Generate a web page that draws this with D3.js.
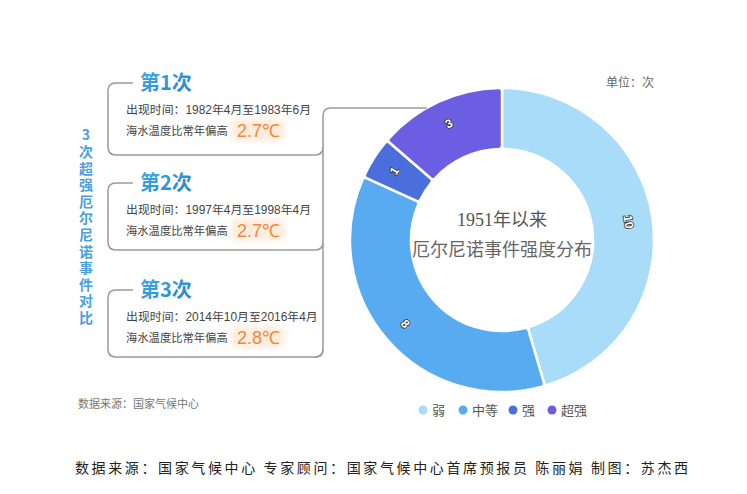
<html lang="zh">
<head>
<meta charset="UTF-8">
<script src="https://d3js.org/d3.v7.min.js"></script>
<title>厄尔尼诺事件强度分布</title>
<style>
  body { margin: 0; background: #fff; }
  text { font-family: "Noto Sans CJK SC", "Noto Sans", sans-serif; }
  .vtitle { writing-mode: vertical-rl; text-orientation: upright; letter-spacing: 2.6px; }
</style>
<script>
var categories = ["弱", "中等", "强", "超强"];
var counts = [10, 8, 1, 3];
var colors = ["#a8dcf8", "#58abf0", "#4a6fdd", "#6c5ee2"];

var eventTitles = ["第1次", "第2次", "第3次"];
var eventPeriods = ["出现时间：1982年4月至1983年6月", "出现时间：1997年4月至1998年4月", "出现时间：2014年10月至2016年4月"];
var eventAnomaly = ["2.7℃", "2.7℃", "2.8℃"];

function main(){
  var svg = d3.select("svg");

  var defs = svg.append("defs");
  var grad = defs.append("linearGradient").attr("id", "tg")
      .attr("x1", "0").attr("x2", "1").attr("y1", "0").attr("y2", "1");
  grad.append("stop").attr("offset", "0").attr("stop-color", "#3fb0e2");
  grad.append("stop").attr("offset", "1").attr("stop-color", "#2680c8");
  defs.append("filter").attr("id", "blur").append("feGaussianBlur").attr("stdDeviation", 3);

  // donut
  var cx = 502, cy = 240;
  var pie = d3.pie().sort(null).value(function(d){return d;});
  var arc = d3.arc().innerRadius(91).outerRadius(152).cornerRadius(3);
  var g = svg.append("g").attr("transform", "translate(" + cx + "," + cy + ")");
  var arcs = pie(counts);
  g.selectAll("path").data(arcs).enter().append("path")
      .attr("d", arc)
      .attr("fill", function(d, i){return colors[i];})
      .attr("stroke", "#fff").attr("stroke-width", 2.5);

  g.selectAll(".lbl").data(arcs).enter().append("text")
      .attr("class", "lbl")
      .attr("transform", function(d){
        var a = (d.startAngle + d.endAngle) / 2;
        var r = 128;
        var x = Math.sin(a) * r, y = -Math.cos(a) * r;
        var deg = a * 180 / Math.PI;
        if (deg > 90 && deg < 270) deg -= 180;
        return "translate(" + x + "," + y + ") rotate(" + deg + ")";
      })
      .attr("text-anchor", "middle").attr("dy", "0.35em")
      .attr("font-size", 12).attr("font-weight", "bold")
      .style("font-family", "'Liberation Sans', sans-serif")
      .attr("fill", "#fff").attr("stroke", "#333").attr("stroke-width", 1.6)
      .attr("paint-order", "stroke")
      .text(function(d){return d.data;});

  g.append("text").attr("y", -14).attr("text-anchor", "middle")
      .attr("font-size", 18).attr("fill", "#555")
      .style("font-family", "'Liberation Serif', 'Noto Sans CJK SC'")
      .text("1951年以来");
  g.append("text").attr("y", 16).attr("text-anchor", "middle")
      .attr("font-size", 18).attr("fill", "#666")
      .text("厄尔尼诺事件强度分布");

  svg.append("text").attr("x", 654).attr("y", 87).attr("text-anchor", "end")
      .attr("font-size", 12).attr("fill", "#666").text("单位：次");

  // legend
  var legX = [423, 463, 513, 552];
  var lg = svg.selectAll(".leg").data(categories).enter().append("g")
      .attr("transform", function(d, i){return "translate(" + legX[i] + ",410)";});
  lg.append("circle").attr("r", 4.5).attr("fill", function(d, i){return colors[i];});
  lg.append("text").attr("x", 9).attr("dy", "0.36em").attr("font-size", 13)
      .attr("fill", "#555").text(function(d){return d;});

  // connector frame
  var line = svg.append("g").attr("fill", "none").attr("stroke", "#9a9a9a").attr("stroke-width", 1.5);
  var hitX = cx - Math.sqrt(152 * 152 - (cy - 108) * (cy - 108));
  line.append("path").attr("d", "M" + hitX + ",108 H331 Q323,108 323,116 V349 Q323,357 315,357");

  var boxTop = [83, 183, 290], boxBot = [155, 250, 357];
  boxTop.forEach(function(t, i){
    var b = boxBot[i];
    var d = "M133," + t + " H116 Q108," + t + " 108," + (t + 8) +
            " V" + (b - 8) + " Q108," + b + " 116," + b + " H315" +
            " Q323," + b + " 323," + (b - 8);
    line.append("path").attr("d", d);
  });

  // box contents
  var bx = svg.selectAll(".box").data(eventTitles).enter().append("g")
      .attr("transform", function(d, i){return "translate(0," + boxTop[i] + ")";});
  bx.append("text").attr("x", 140).attr("y", 7).attr("font-size", 20)
      .attr("font-weight", "bold").attr("fill", "url(#tg)")
      .text(function(d){return d;});
  bx.append("text").attr("x", 126).attr("y", 31).attr("font-size", 11.9)
      .style("font-family", "'Liberation Sans', 'Noto Sans CJK SC'")
      .attr("fill", "#444").text(function(d, i){return eventPeriods[i];});
  bx.append("text").attr("x", 126).attr("y", 52).attr("font-size", 11.3)
      .attr("fill", "#444").text("海水温度比常年偏高");
  bx.append("rect").attr("x", 231).attr("y", 36).attr("width", 54).attr("height", 22)
      .attr("rx", 6).attr("fill", "#fde6d0").attr("opacity", 0.75).attr("filter", "url(#blur)");
  bx.append("text").attr("x", 237).attr("y", 54).attr("font-size", 18)
      .style("font-family", "'Liberation Sans', sans-serif")
      .attr("fill", "#f0883a").text(function(d, i){return eventAnomaly[i];});

  // vertical title
  svg.append("text").attr("class", "vtitle")
      .attr("x", 86).attr("y", 128)
      .attr("font-size", 14).attr("font-weight", "bold").attr("fill", "#4a9fdf")
      .text("3次超强厄尔尼诺事件对比");

  svg.append("text").attr("x", 78).attr("y", 408).attr("font-size", 11)
      .attr("fill", "#777").text("数据来源：国家气候中心");

  svg.append("text").attr("x", 75).attr("y", 473).attr("font-size", 14)
      .attr("fill", "#222").attr("textLength", 613).attr("lengthAdjust", "spacing")
      .text("数据来源：国家气候中心 专家顾问：国家气候中心首席预报员 陈丽娟 制图：苏杰西");
}
</script>
</head>
<body onload="main();">
<svg width="747" height="494"></svg>
</body>
</html>
